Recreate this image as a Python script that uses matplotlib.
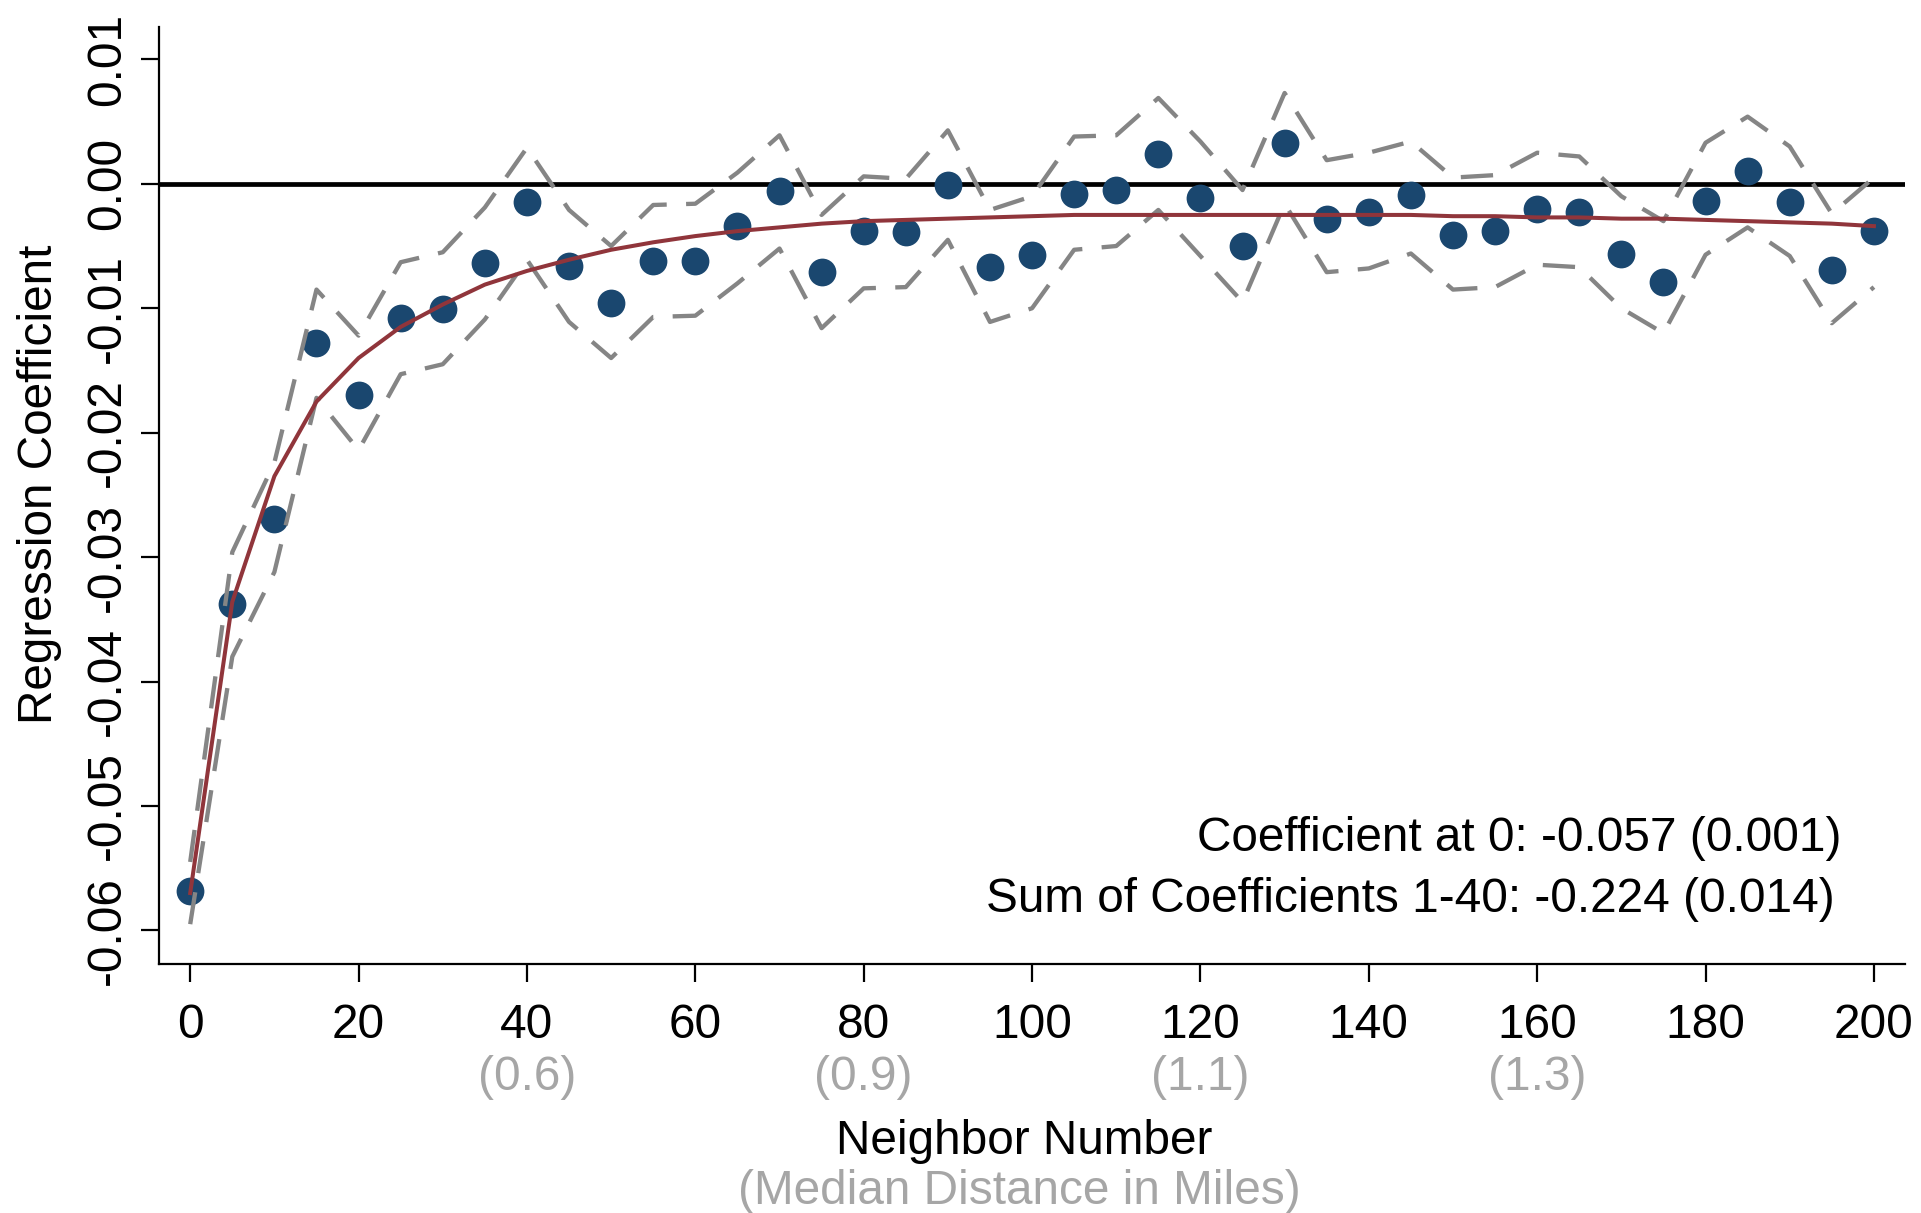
import matplotlib
matplotlib.use("Agg")
import matplotlib.pyplot as plt
from matplotlib.transforms import blended_transform_factory

plt.rcParams['font.family'] = ['Liberation Sans', 'DejaVu Sans']

neighbor = [0, 5, 10, 15, 20, 25, 30, 35, 40, 45, 50, 55, 60, 65, 70, 75, 80, 85, 90, 95,
            100, 105, 110, 115, 120, 125, 130, 135, 140, 145, 150, 155, 160, 165, 170, 175,
            180, 185, 190, 195, 200]

coef = [-0.0568, -0.0338, -0.0269, -0.0128, -0.0170, -0.0108, -0.0101, -0.0064, -0.0015, -0.0066,
        -0.0096, -0.0062, -0.0062, -0.0034, -0.0006, -0.0071, -0.0038, -0.0039, -0.0001, -0.0067,
        -0.0057, -0.0008, -0.0005, 0.0024, -0.0011, -0.0050, 0.0033, -0.0028, -0.0023, -0.0009,
        -0.0041, -0.0038, -0.0020, -0.0023, -0.0056, -0.0079, -0.0014, 0.0010, -0.0015, -0.0069,
        -0.0038]

ci_upper = [-0.0545, -0.0296, -0.0224, -0.0085, -0.0122, -0.0063, -0.0055, -0.0019, 0.0029, -0.0021,
            -0.0050, -0.0017, -0.0016, 0.0009, 0.0039, -0.0025, 0.0006, 0.0004, 0.0043, -0.0021,
            -0.0010, 0.0038, 0.0039, 0.0069, 0.0034, -0.0005, 0.0073, 0.0019, 0.0025, 0.0034,
            0.0005, 0.0007, 0.0025, 0.0022, -0.0010, -0.0030, 0.0033, 0.0054, 0.0030, -0.0024,
            0.0005]

ci_lower = [-0.0595, -0.0380, -0.0312, -0.0172, -0.0214, -0.0153, -0.0145, -0.0109, -0.0061, -0.0111,
            -0.0140, -0.0107, -0.0106, -0.0080, -0.0052, -0.0116, -0.0084, -0.0083, -0.0045, -0.0111,
            -0.0100, -0.0053, -0.0050, -0.0021, -0.0058, -0.0095, -0.0016, -0.0071, -0.0068, -0.0056,
            -0.0085, -0.0083, -0.0065, -0.0067, -0.0100, -0.0120, -0.0057, -0.0035, -0.0058, -0.0112,
            -0.0083]

fit = [-0.0570, -0.0336, -0.0235, -0.0175, -0.0140, -0.0115, -0.0097, -0.0081, -0.0070, -0.0061,
       -0.0053, -0.0047, -0.0042, -0.0038, -0.0035, -0.0032, -0.0030, -0.0029, -0.0028, -0.0027,
       -0.0026, -0.0025, -0.0025, -0.0025, -0.0025, -0.0025, -0.0025, -0.0025, -0.0025, -0.0025,
       -0.0026, -0.0026, -0.0027, -0.0027, -0.0028, -0.0028, -0.0029, -0.0030, -0.0031, -0.0032,
       -0.0034]

xticks = [0, 20, 40, 60, 80, 100, 120, 140, 160, 180, 200]
yticks = [-0.06, -0.05, -0.04, -0.03, -0.02, -0.01, 0.00, 0.01]
dist_pos = [40, 80, 120, 160]
dist_labels = ["(0.6)", "(0.9)", "(1.1)", "(1.3)"]

FS = 34.4
fig = plt.figure(figsize=(19.21, 12.13), dpi=100)
ax = fig.add_axes([0.0828, 0.2053, 0.9089, 0.7724])

ax.axhline(0, color='black', lw=3.4, zorder=1)
ax.scatter(neighbor, coef, s=400, color='#1a476f', zorder=2, linewidths=0)
ax.plot(neighbor, ci_upper, color='#858585', lw=3.1, dashes=(7.5, 4.5), zorder=3)
ax.plot(neighbor, ci_lower, color='#858585', lw=3.1, dashes=(7.5, 4.5), zorder=3)
ax.plot(neighbor, fit, color='#90353b', lw=2.9, zorder=4)

ax.set_xlim(-3.7, 203.7)
ax.set_ylim(-0.0627, 0.0126)
ax.set_xticks(xticks)
ax.set_xticklabels([str(v) for v in xticks], fontsize=FS)
ax.set_yticks(yticks)
ax.set_yticklabels([f"{v:.2f}" for v in yticks], fontsize=FS, rotation=90, va='center')

for s in ['top', 'right']:
    ax.spines[s].set_visible(False)
for s in ['left', 'bottom']:
    ax.spines[s].set_linewidth(1.6)
ax.tick_params(axis='both', direction='out', length=13, width=1.6, color='black')
ax.tick_params(axis='x', pad=15)
ax.tick_params(axis='y', pad=8)

trans = blended_transform_factory(ax.transData, fig.transFigure)
for p, lab in zip(dist_pos, dist_labels):
    ax.text(p, 1 - 1078 / 1213, lab, transform=trans, ha='center', va='center',
            fontsize=FS, color='#a6a6a6')

fig.text(1024 / 1921, 1 - 1141 / 1213, "Neighbor Number", ha='center', va='center',
         fontsize=FS, color='black')
fig.text(1019 / 1921, 1 - 1191 / 1213, "(Median Distance in Miles)", ha='center',
         va='center', fontsize=FS, color='#a6a6a6')
fig.text(40 / 1921, 1 - 484 / 1213, "Regression Coefficient", rotation=90, ha='center',
         va='center', fontsize=FS, color='black')

ax.text(196.1, -0.0526, "Coefficient at 0: -0.057 (0.001)", ha='right', va='center',
        fontsize=FS, color='black')
ax.text(195.3, -0.0575, "Sum of Coefficients 1-40: -0.224 (0.014)", ha='right', va='center',
        fontsize=FS, color='black')

fig.savefig("out.png", dpi=100)
